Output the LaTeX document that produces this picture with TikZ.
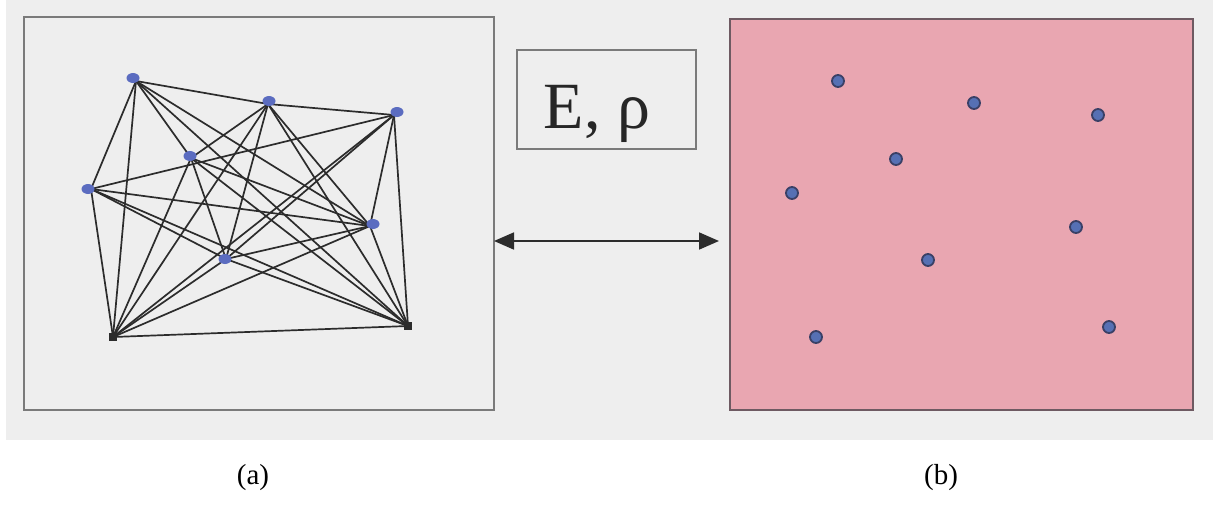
\documentclass[tikz,border=0pt]{standalone}
\usepackage{fontspec}
\setmainfont{Liberation Serif}
\usetikzlibrary{arrows.meta,shapes.geometric}
\definecolor{bggray}{HTML}{EEEEEE}
\definecolor{framegray}{HTML}{7A7A7A}
\definecolor{edgecol}{HTML}{2C2C2C}
\definecolor{dotblue}{HTML}{5B6CC0}
\definecolor{rdotblue}{HTML}{5670B4}
\definecolor{rdotring}{HTML}{3A4066}
\definecolor{pinkfill}{HTML}{E9A6B1}
\definecolor{pinkframe}{HTML}{6E5A62}
\begin{document}
\begin{tikzpicture}[x=1pt,y=-1pt,
  netedge/.style={draw=edgecol,line width=1.7pt},
  gdot/.style={ellipse,fill=dotblue,minimum width=13pt,minimum height=10pt,inner sep=0pt},
  sqdot/.style={rectangle,fill=edgecol,minimum size=8pt,inner sep=0pt},
  rdot/.style={circle,fill=rdotblue,draw=rdotring,line width=1.8pt,minimum size=12pt,inner sep=0pt},
  panel/.style={draw=framegray,line width=1.2pt},
  lab/.style={font=\fontsize{29}{33}\selectfont}
]
\useasboundingbox (0,0) rectangle (1213,517);
\fill[white] (0,0) rectangle (1213,517);
\fill[bggray] (6,0) rectangle (1213,440);

% left panel
\draw[panel] (24,17) rectangle (494,410);
\coordinate (A) at (136,81);
\coordinate (B) at (268,104);
\coordinate (C) at (394,115);
\coordinate (D) at (191,158);
\coordinate (E) at (91,189);
\coordinate (F) at (370,226);
\coordinate (G) at (226,259);
\coordinate (H) at (113,337);
\coordinate (I) at (408,326);

\foreach \u/\v in {A/B,A/E,A/H,A/D,A/F,A/I,
                   B/C,B/D,B/H,B/G,B/F,B/I,
                   C/E,C/G,C/F,C/I,C/H,
                   D/F,D/I,D/G,D/H,
                   E/H,E/F,E/I,E/G,
                   F/G,F/H,F/I,
                   G/H,G/I,
                   H/I}
  \draw[netedge] (\u) -- (\v);

\node[gdot] (nA) at (133,78) {};
\node[gdot] (nB) at (269,101) {};
\node[gdot] (nC) at (397,112) {};
\node[gdot] (nD) at (190,156) {};
\node[gdot] (nE) at (88,189) {};
\node[gdot] (nF) at (373,224) {};
\node[gdot] (nG) at (225,259) {};
\node[sqdot] (nH) at (113,337) {};
\node[sqdot] (nI) at (408,326) {};

% middle
\draw[panel] (517,50) rectangle (696,149);
\node[anchor=base,inner sep=0pt,font=\fontsize{66}{70}\selectfont,text=black!85] (erho) at (597,128) {E, ρ};
\coordinate (arrL) at (494,241);
\coordinate (arrR) at (719,241);
\draw[draw=edgecol,line width=1.8pt,{Triangle[length=20pt,width=17pt]}-{Triangle[length=20pt,width=17pt]}] (arrL) -- (arrR);

% right panel
\draw[fill=pinkfill,draw=pinkframe,line width=1.4pt] (730,19) rectangle (1193,410);
\node[rdot] (r1) at (838,81) {};
\node[rdot] (r2) at (974,103) {};
\node[rdot] (r3) at (1098,115) {};
\node[rdot] (r4) at (896,159) {};
\node[rdot] (r5) at (792,193) {};
\node[rdot] (r6) at (1076,227) {};
\node[rdot] (r7) at (928,260) {};
\node[rdot] (r8) at (816,337) {};
\node[rdot] (r9) at (1109,327) {};

% labels
\node[lab] (la) at (253,478) {(a)};
\node[lab] (lb) at (941,478) {(b)};
\end{tikzpicture}
\end{document}
